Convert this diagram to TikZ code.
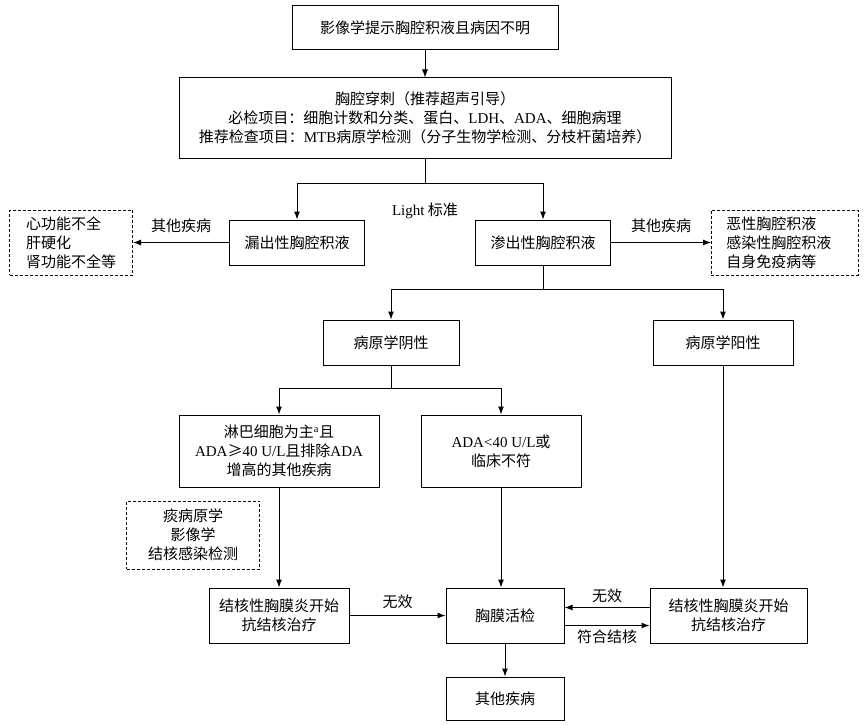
\documentclass[tikz,border=0pt]{standalone}
\usepackage{fontspec}
\setmainfont{Noto Sans CJK SC}
\newfontfamily\tmrfont{Liberation Serif}
\newcommand\tmr[1]{{\tmrfont #1}}
\usetikzlibrary{arrows.meta,positioning}
\tikzset{
box/.style={draw,line width=1pt,align=center,minimum height=45pt,inner sep=3pt,font=\fontsize{15pt}{19pt}\selectfont},
dashbox/.style={box,line width=.8pt,dash pattern=on 3pt off 2pt},
lbl/.style={inner sep=3pt,font=\fontsize{15pt}{19pt}\selectfont},
arrow/.style={-{Latex[length=8pt,width=6pt]},line width=1pt},
line/.style={line width=1pt}
}
\begin{document}
\begin{tikzpicture}[x=1pt,y=-1pt]
\useasboundingbox (0,0) rectangle (865,725);
\node[box,minimum width=266pt,minimum height=44pt] (top) at (425,28) {影像学提示胸腔积液且病因不明};
\node[box,minimum width=492pt,minimum height=80pt,below=27pt of top] (punct) {胸腔穿刺（推荐超声引导）\\必检项目：细胞计数和分类、蛋白、\tmr{LDH}、\tmr{ADA}、细胞病理\\推荐检查项目：\tmr{MTB}病原学检测（分子生物学检测、分枝杆菌培养）};
\coordinate[below=25pt of punct] (j1);
\node[lbl,below=16pt of j1] (light) {\tmr{Light} 标准};
\node[box,minimum width=135pt,below=36pt of j1,xshift=-128pt] (leak) {漏出性胸腔积液};
\node[box,minimum width=135pt,below=36pt of j1,xshift=118pt] (exud) {渗出性胸腔积液};
\node[dashbox,align=left,minimum width=123pt,minimum height=65pt,left=96pt of leak] (leakx) {心功能不全\\肝硬化\\肾功能不全等};
\node[dashbox,align=left,text width=117pt,inner xsep=15pt,minimum height=65pt,right=100pt of exud] (exudx) {恶性胸腔积液\\感染性胸腔积液\\自身免疫病等};
\coordinate[below=24pt of exud] (j2);
\node[box,minimum width=136pt,below=30pt of j2,xshift=-152pt] (neg) {病原学阴性};
\node[box,minimum width=140pt,below=30pt of j2,xshift=180pt] (pos) {病原学阳性};
\coordinate[below=23pt of neg] (j3);
\node[box,minimum width=200pt,minimum height=72pt,below=26pt of j3,xshift=-112pt] (lym) {淋巴细胞为主\textsuperscript{\tmr{a}}且\\\tmr{ADA}≥\tmr{40 U/L}且排除\tmr{ADA}\\增高的其他疾病};
\node[box,minimum width=160pt,minimum height=72pt,below=26pt of j3,xshift=110pt] (ada) {\tmr{ADA<40 U/L}或\\临床不符};
\node[dashbox,minimum width=133pt,minimum height=68pt,below left=13pt and 19pt of lym.south] (spu) {痰病原学\\影像学\\结核感染检测};
\node[box,minimum width=140pt,minimum height=55pt,below=100pt of lym] (tbl) {结核性胸膜炎开始\\抗结核治疗};
\node[box,minimum width=118pt,minimum height=55pt,right=96pt of tbl] (bio) {胸膜活检};
\node[box,minimum width=157pt,minimum height=55pt,right=85pt of bio] (tbr) {结核性胸膜炎开始\\抗结核治疗};
\node[box,minimum width=118pt,minimum height=43pt,below=33pt of bio] (oth) {其他疾病};
\draw[arrow] (top) -- (punct);
\draw[line] (punct) -- (j1);
\draw[arrow] (j1) -| (leak);
\draw[arrow] (j1) -| (exud);
\draw[arrow] (leak.west) -- (leak.west -| leakx.east) node[midway,above=6pt,lbl] {其他疾病};
\draw[arrow] (exud.east) -- (exud.east -| exudx.west) node[midway,above=6pt,lbl] {其他疾病};
\draw[line] (exud) -- (j2);
\draw[arrow] (j2) -| (neg);
\draw[arrow] (j2) -| (pos);
\draw[line] (neg) -- (j3);
\draw[arrow] (j3) -| (lym);
\draw[arrow] (j3) -| (ada);
\draw[arrow] (lym) -- (tbl);
\draw[arrow] (ada) -- (ada |- bio.north);
\draw[arrow] (pos) -- (pos |- tbr.north);
\draw[arrow] (tbl) -- (bio) node[midway,above=3pt,lbl] {无效};
\draw[arrow] ([yshift=8pt]tbr.west) -- ([yshift=8pt]tbr.west -| bio.east) node[midway,above=1pt,lbl] {无效};
\draw[arrow] ([yshift=-10pt]bio.east) -- ([yshift=-10pt]bio.east -| tbr.west) node[midway,below=1pt,lbl] {符合结核};
\draw[arrow] (bio) -- (oth);
\end{tikzpicture}
\end{document}
